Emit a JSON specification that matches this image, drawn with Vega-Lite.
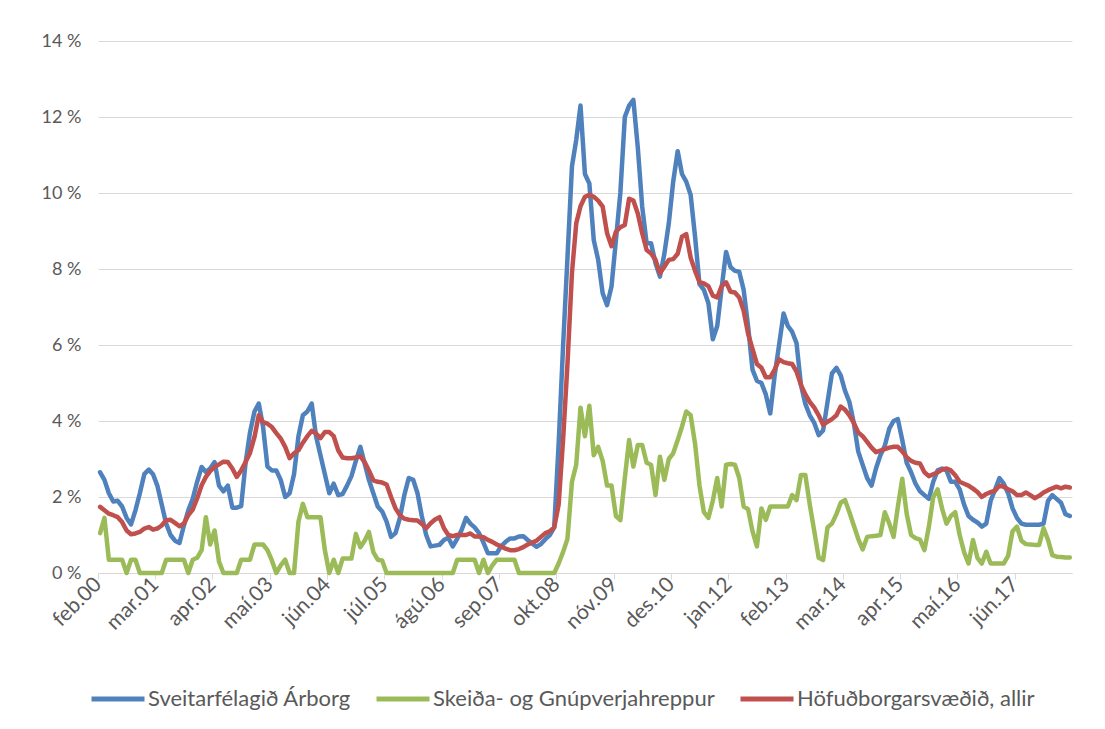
{
"$schema":"https://vega.github.io/schema/vega-lite/v6.json",
"width":974,"height":532,
"autosize":{"type":"none"},
"padding":{"left":98,"top":41,"right":33,"bottom":156},
"background":"white",
"config":{"font":"Lato","view":{"stroke":null},
"axis":{"labelFont":"Lato","labelFontSize":18,"labelColor":"#595959","title":null},
"legend":{"orient":"none","legendX":-9,"legendY":629,"direction":"horizontal","symbolType":"stroke","symbolSize":2809,"symbolStrokeWidth":5,"labelFont":"Lato","labelFontSize":22,"labelColor":"#595959","labelLimit":500,"columnPadding":15,"labelOffset":1,"padding":0}},
"data":{"values":[
{"d":"2000-02","a":2.65,"s":1.05,"h":1.74},{"d":"2000-03","a":2.45,"s":1.45,"h":1.65},{"d":"2000-04","a":2.1,"s":0.35,"h":1.56},{"d":"2000-05","a":1.88,"s":0.35,"h":1.52},{"d":"2000-06","a":1.9,"s":0.35,"h":1.47},{"d":"2000-07","a":1.75,"s":0.35,"h":1.34},{"d":"2000-08","a":1.45,"s":0,"h":1.12},{"d":"2000-09","a":1.28,"s":0.35,"h":1.02},{"d":"2000-10","a":1.65,"s":0.35,"h":1.04},{"d":"2000-11","a":2.1,"s":0,"h":1.08},{"d":"2000-12","a":2.6,"s":0,"h":1.17},
{"d":"2001-01","a":2.72,"s":0,"h":1.21},{"d":"2001-02","a":2.6,"s":0,"h":1.14},{"d":"2001-03","a":2.3,"s":0,"h":1.17},{"d":"2001-04","a":1.8,"s":0,"h":1.25},{"d":"2001-05","a":1.3,"s":0.35,"h":1.39},{"d":"2001-06","a":1.0,"s":0.35,"h":1.4},{"d":"2001-07","a":0.85,"s":0.35,"h":1.32},{"d":"2001-08","a":0.79,"s":0.35,"h":1.23},{"d":"2001-09","a":1.25,"s":0.35,"h":1.3},{"d":"2001-10","a":1.65,"s":0,"h":1.52},{"d":"2001-11","a":1.95,"s":0.35,"h":1.67},{"d":"2001-12","a":2.4,"s":0.4,"h":1.96},
{"d":"2002-01","a":2.79,"s":0.6,"h":2.31},{"d":"2002-02","a":2.66,"s":1.47,"h":2.53},{"d":"2002-03","a":2.75,"s":0.75,"h":2.68},{"d":"2002-04","a":2.92,"s":1.12,"h":2.79},{"d":"2002-05","a":2.3,"s":0.3,"h":2.86},{"d":"2002-06","a":2.15,"s":0,"h":2.93},{"d":"2002-07","a":2.3,"s":0,"h":2.92},{"d":"2002-08","a":1.72,"s":0,"h":2.75},{"d":"2002-09","a":1.72,"s":0,"h":2.53},{"d":"2002-10","a":1.76,"s":0.35,"h":2.7},{"d":"2002-11","a":2.9,"s":0.35,"h":2.92},{"d":"2002-12","a":3.7,"s":0.35,"h":3.16},
{"d":"2003-01","a":4.25,"s":0.75,"h":3.58},{"d":"2003-02","a":4.46,"s":0.75,"h":4.15},{"d":"2003-03","a":3.85,"s":0.75,"h":3.97},{"d":"2003-04","a":2.8,"s":0.6,"h":3.93},{"d":"2003-05","a":2.7,"s":0.33,"h":3.84},{"d":"2003-06","a":2.7,"s":0,"h":3.68},{"d":"2003-07","a":2.45,"s":0.2,"h":3.54},{"d":"2003-08","a":2.0,"s":0.35,"h":3.32},{"d":"2003-09","a":2.1,"s":0,"h":3.02},{"d":"2003-10","a":2.6,"s":0,"h":3.15},{"d":"2003-11","a":3.6,"s":1.35,"h":3.23},{"d":"2003-12","a":4.15,"s":1.82,"h":3.43},
{"d":"2004-01","a":4.25,"s":1.47,"h":3.6},{"d":"2004-02","a":4.46,"s":1.47,"h":3.74},{"d":"2004-03","a":3.6,"s":1.47,"h":3.67},{"d":"2004-04","a":3.1,"s":1.47,"h":3.55},{"d":"2004-05","a":2.6,"s":0.6,"h":3.71},{"d":"2004-06","a":2.1,"s":0,"h":3.71},{"d":"2004-07","a":2.35,"s":0.35,"h":3.6},{"d":"2004-08","a":2.05,"s":0,"h":3.23},{"d":"2004-09","a":2.08,"s":0.38,"h":3.04},{"d":"2004-10","a":2.3,"s":0.38,"h":3.02},{"d":"2004-11","a":2.55,"s":0.38,"h":3.02},{"d":"2004-12","a":2.95,"s":1.03,"h":3.04},
{"d":"2005-01","a":3.32,"s":0.68,"h":3.07},{"d":"2005-02","a":2.88,"s":0.85,"h":2.92},{"d":"2005-03","a":2.45,"s":1.08,"h":2.7},{"d":"2005-04","a":2.1,"s":0.55,"h":2.44},{"d":"2005-05","a":1.75,"s":0.35,"h":2.4},{"d":"2005-06","a":1.62,"s":0.33,"h":2.38},{"d":"2005-07","a":1.35,"s":0,"h":2.33},{"d":"2005-08","a":0.95,"s":0,"h":2.0},{"d":"2005-09","a":1.05,"s":0,"h":1.7},{"d":"2005-10","a":1.45,"s":0,"h":1.52},{"d":"2005-11","a":2.05,"s":0,"h":1.43},{"d":"2005-12","a":2.5,"s":0,"h":1.4},
{"d":"2006-01","a":2.45,"s":0,"h":1.39},{"d":"2006-02","a":2.1,"s":0,"h":1.38},{"d":"2006-03","a":1.5,"s":0,"h":1.29},{"d":"2006-04","a":1.0,"s":0,"h":1.18},{"d":"2006-05","a":0.7,"s":0,"h":1.31},{"d":"2006-06","a":0.72,"s":0,"h":1.41},{"d":"2006-07","a":0.74,"s":0,"h":1.47},{"d":"2006-08","a":0.87,"s":0,"h":1.18},{"d":"2006-09","a":0.93,"s":0,"h":1.0},{"d":"2006-10","a":0.7,"s":0,"h":0.97},{"d":"2006-11","a":0.9,"s":0.35,"h":1.0},{"d":"2006-12","a":1.13,"s":0.35,"h":1.0},
{"d":"2007-01","a":1.45,"s":0.35,"h":1.0},{"d":"2007-02","a":1.3,"s":0.35,"h":1.04},{"d":"2007-03","a":1.2,"s":0.35,"h":0.96},{"d":"2007-04","a":1.05,"s":0,"h":0.96},{"d":"2007-05","a":0.8,"s":0.35,"h":0.94},{"d":"2007-06","a":0.52,"s":0,"h":0.87},{"d":"2007-07","a":0.52,"s":0.2,"h":0.82},{"d":"2007-08","a":0.52,"s":0.35,"h":0.75},{"d":"2007-09","a":0.71,"s":0.35,"h":0.7},{"d":"2007-10","a":0.82,"s":0.35,"h":0.64},{"d":"2007-11","a":0.91,"s":0.35,"h":0.6},{"d":"2007-12","a":0.91,"s":0.35,"h":0.6},
{"d":"2008-01","a":0.96,"s":0,"h":0.63},{"d":"2008-02","a":0.97,"s":0,"h":0.68},{"d":"2008-03","a":0.87,"s":0,"h":0.75},{"d":"2008-04","a":0.78,"s":0,"h":0.8},{"d":"2008-05","a":0.69,"s":0,"h":0.85},{"d":"2008-06","a":0.76,"s":0,"h":0.95},{"d":"2008-07","a":0.89,"s":0,"h":1.05},{"d":"2008-08","a":1.0,"s":0,"h":1.1},{"d":"2008-09","a":1.2,"s":0,"h":1.2},{"d":"2008-10","a":3.4,"s":0.25,"h":1.8},{"d":"2008-11","a":5.96,"s":0.55,"h":3.5},{"d":"2008-12","a":8.3,"s":0.9,"h":5.5},
{"d":"2009-01","a":10.7,"s":2.4,"h":7.9},{"d":"2009-02","a":11.4,"s":2.85,"h":9.2},{"d":"2009-03","a":12.3,"s":4.35,"h":9.65},{"d":"2009-04","a":10.5,"s":3.6,"h":9.9},{"d":"2009-05","a":10.25,"s":4.4,"h":9.95},{"d":"2009-06","a":8.76,"s":3.1,"h":9.9},{"d":"2009-07","a":8.24,"s":3.32,"h":9.8},{"d":"2009-08","a":7.36,"s":2.95,"h":9.64},{"d":"2009-09","a":7.05,"s":2.3,"h":8.94},{"d":"2009-10","a":7.54,"s":2.3,"h":8.6},{"d":"2009-11","a":8.76,"s":1.5,"h":8.98},{"d":"2009-12","a":10.0,"s":1.39,"h":9.1},
{"d":"2010-01","a":12.0,"s":2.5,"h":9.16},{"d":"2010-02","a":12.3,"s":3.5,"h":9.85},{"d":"2010-03","a":12.45,"s":2.8,"h":9.8},{"d":"2010-04","a":11.2,"s":3.37,"h":9.46},{"d":"2010-05","a":9.64,"s":3.37,"h":8.94},{"d":"2010-06","a":8.68,"s":2.9,"h":8.5},{"d":"2010-07","a":8.68,"s":2.85,"h":8.41},{"d":"2010-08","a":8.15,"s":2.05,"h":8.24},{"d":"2010-09","a":7.8,"s":3.06,"h":7.89},{"d":"2010-10","a":8.4,"s":2.45,"h":8.06},{"d":"2010-11","a":9.2,"s":3.0,"h":8.24},{"d":"2010-12","a":10.3,"s":3.15,"h":8.26},
{"d":"2011-01","a":11.1,"s":3.5,"h":8.4},{"d":"2011-02","a":10.5,"s":3.85,"h":8.85},{"d":"2011-03","a":10.3,"s":4.25,"h":8.92},{"d":"2011-04","a":9.95,"s":4.15,"h":8.3},{"d":"2011-05","a":8.85,"s":3.4,"h":7.95},{"d":"2011-06","a":7.6,"s":2.3,"h":7.65},{"d":"2011-07","a":7.45,"s":1.6,"h":7.62},{"d":"2011-08","a":7.1,"s":1.45,"h":7.55},{"d":"2011-09","a":6.15,"s":1.9,"h":7.3},{"d":"2011-10","a":6.5,"s":2.5,"h":7.25},{"d":"2011-11","a":7.5,"s":1.75,"h":7.55},{"d":"2011-12","a":8.45,"s":2.85,"h":7.65},
{"d":"2012-01","a":8.05,"s":2.87,"h":7.4},{"d":"2012-02","a":7.95,"s":2.85,"h":7.38},{"d":"2012-03","a":7.93,"s":2.5,"h":7.25},{"d":"2012-04","a":7.45,"s":1.75,"h":6.9},{"d":"2012-05","a":6.5,"s":1.68,"h":6.3},{"d":"2012-06","a":5.35,"s":1.1,"h":5.9},{"d":"2012-07","a":5.06,"s":0.7,"h":5.5},{"d":"2012-08","a":5.0,"s":1.7,"h":5.4},{"d":"2012-09","a":4.7,"s":1.4,"h":5.15},{"d":"2012-10","a":4.2,"s":1.75,"h":5.15},{"d":"2012-11","a":5.2,"s":1.75,"h":5.35},{"d":"2012-12","a":6.0,"s":1.75,"h":5.62},
{"d":"2013-01","a":6.83,"s":1.75,"h":5.55},{"d":"2013-02","a":6.5,"s":1.75,"h":5.52},{"d":"2013-03","a":6.35,"s":2.05,"h":5.5},{"d":"2013-04","a":6.05,"s":1.92,"h":5.3},{"d":"2013-05","a":4.95,"s":2.58,"h":4.95},{"d":"2013-06","a":4.45,"s":2.58,"h":4.7},{"d":"2013-07","a":4.15,"s":1.8,"h":4.5},{"d":"2013-08","a":3.95,"s":1.1,"h":4.35},{"d":"2013-09","a":3.63,"s":0.4,"h":4.15},{"d":"2013-10","a":3.75,"s":0.34,"h":3.9},{"d":"2013-11","a":4.5,"s":1.2,"h":3.98},{"d":"2013-12","a":5.25,"s":1.3,"h":4.05},
{"d":"2014-01","a":5.4,"s":1.55,"h":4.15},{"d":"2014-02","a":5.2,"s":1.85,"h":4.38},{"d":"2014-03","a":4.8,"s":1.92,"h":4.3},{"d":"2014-04","a":4.5,"s":1.6,"h":4.15},{"d":"2014-05","a":3.95,"s":1.25,"h":3.95},{"d":"2014-06","a":3.2,"s":0.9,"h":3.7},{"d":"2014-07","a":2.85,"s":0.62,"h":3.6},{"d":"2014-08","a":2.5,"s":0.95,"h":3.45},{"d":"2014-09","a":2.3,"s":0.97,"h":3.3},{"d":"2014-10","a":2.75,"s":0.98,"h":3.18},{"d":"2014-11","a":3.1,"s":1.0,"h":3.22},{"d":"2014-12","a":3.35,"s":1.6,"h":3.26},
{"d":"2015-01","a":3.8,"s":1.3,"h":3.3},{"d":"2015-02","a":4.0,"s":0.95,"h":3.32},{"d":"2015-03","a":4.05,"s":1.74,"h":3.32},{"d":"2015-04","a":3.5,"s":2.48,"h":3.2},{"d":"2015-05","a":2.9,"s":1.56,"h":3.05},{"d":"2015-06","a":2.65,"s":1.0,"h":2.95},{"d":"2015-07","a":2.35,"s":0.92,"h":2.9},{"d":"2015-08","a":2.15,"s":0.88,"h":2.88},{"d":"2015-09","a":2.05,"s":0.6,"h":2.65},{"d":"2015-10","a":1.95,"s":1.21,"h":2.55},{"d":"2015-11","a":2.4,"s":2.0,"h":2.6},{"d":"2015-12","a":2.7,"s":2.2,"h":2.65},
{"d":"2016-01","a":2.75,"s":1.69,"h":2.72},{"d":"2016-02","a":2.7,"s":1.3,"h":2.75},{"d":"2016-03","a":2.4,"s":1.5,"h":2.7},{"d":"2016-04","a":2.4,"s":1.6,"h":2.57},{"d":"2016-05","a":2.2,"s":1.0,"h":2.4},{"d":"2016-06","a":1.8,"s":0.55,"h":2.35},{"d":"2016-07","a":1.5,"s":0.25,"h":2.3},{"d":"2016-08","a":1.4,"s":0.87,"h":2.22},{"d":"2016-09","a":1.33,"s":0.4,"h":2.13},{"d":"2016-10","a":1.22,"s":0.25,"h":2.0},{"d":"2016-11","a":1.3,"s":0.56,"h":2.08},{"d":"2016-12","a":1.9,"s":0.25,"h":2.13},
{"d":"2017-01","a":2.2,"s":0.25,"h":2.17},{"d":"2017-02","a":2.5,"s":0.25,"h":2.3},{"d":"2017-03","a":2.35,"s":0.25,"h":2.27},{"d":"2017-04","a":2.1,"s":0.45,"h":2.2},{"d":"2017-05","a":1.7,"s":1.1,"h":2.15},{"d":"2017-06","a":1.45,"s":1.22,"h":2.05},{"d":"2017-07","a":1.3,"s":0.85,"h":2.05},{"d":"2017-08","a":1.27,"s":0.76,"h":2.12},{"d":"2017-09","a":1.27,"s":0.75,"h":2.05},{"d":"2017-10","a":1.27,"s":0.74,"h":1.97},{"d":"2017-11","a":1.27,"s":0.74,"h":2.03},{"d":"2017-12","a":1.3,"s":1.18,"h":2.12},
{"d":"2018-01","a":1.9,"s":0.87,"h":2.18},{"d":"2018-02","a":2.05,"s":0.47,"h":2.23},{"d":"2018-03","a":1.95,"s":0.43,"h":2.27},{"d":"2018-04","a":1.85,"s":0.42,"h":2.23},{"d":"2018-05","a":1.55,"s":0.41,"h":2.27},{"d":"2018-06","a":1.5,"s":0.41,"h":2.25}
]},
"encoding":{
"x":{"field":"d","timeUnit":"utcyearmonth","type":"temporal","bandPosition":0.5,
"scale":{"type":"utc","domain":[{"year":2000,"month":2,"date":1,"utc":true},{"year":2018,"month":7,"date":1,"utc":true}],"nice":false},
"axis":{"values":[{"year":2000,"month":2,"date":1,"utc":true},{"year":2001,"month":3,"date":1,"utc":true},{"year":2002,"month":4,"date":1,"utc":true},{"year":2003,"month":5,"date":1,"utc":true},{"year":2004,"month":6,"date":1,"utc":true},{"year":2005,"month":7,"date":1,"utc":true},{"year":2006,"month":8,"date":1,"utc":true},{"year":2007,"month":9,"date":1,"utc":true},{"year":2008,"month":10,"date":1,"utc":true},{"year":2009,"month":11,"date":1,"utc":true},{"year":2010,"month":12,"date":1,"utc":true},{"year":2012,"month":1,"date":1,"utc":true},{"year":2013,"month":2,"date":1,"utc":true},{"year":2014,"month":3,"date":1,"utc":true},{"year":2015,"month":4,"date":1,"utc":true},{"year":2016,"month":5,"date":1,"utc":true},{"year":2017,"month":6,"date":1,"utc":true}],
"labelAngle":315,"labelAlign":"right","labelBaseline":"middle","labelPadding":2,"labelOverlap":false,"labelBound":false,"labelFlush":false,"labelFontSize":21,"domainColor":"#D9D9D9","domainWidth":1,"tickColor":"#D9D9D9","tickSize":6,"grid":false,
"labelExpr":"['jan','feb','mar','apr','maí','jún','júl','ágú','sep','okt','nóv','des'][utcmonth(datum.value)] + '.' + utcFormat(datum.value,'%y')"}}
},
"layer":[
{"mark":{"type":"line","strokeWidth":4.5,"strokeJoin":"round","strokeCap":"round"},
"encoding":{"y":{"field":"a","type":"quantitative","scale":{"domain":[0,14],"nice":false},"axis":{"values":[0,2,4,6,8,10,12,14],"labelExpr":"datum.value + ' %'","domain":false,"ticks":false,"grid":true,"gridColor":"#D9D9D9","labelPadding":17}},
"color":{"datum":"Sveitarfélagið Árborg","scale":{"domain":["Sveitarfélagið Árborg","Skeiða- og Gnúpverjahreppur","Höfuðborgarsvæðið, allir"],"range":["#4F81BD","#9BBB59","#C0504D"]},"legend":{"title":null}}}},
{"mark":{"type":"line","strokeWidth":4.5,"strokeJoin":"round","strokeCap":"round"},
"encoding":{"y":{"field":"s","type":"quantitative","scale":{"domain":[0,14],"nice":false},"axis":{"values":[0,2,4,6,8,10,12,14],"labelExpr":"datum.value + ' %'","domain":false,"ticks":false,"grid":true,"gridColor":"#D9D9D9","labelPadding":17}},
"color":{"datum":"Skeiða- og Gnúpverjahreppur"}}},
{"mark":{"type":"line","strokeWidth":4.5,"strokeJoin":"round","strokeCap":"round"},
"encoding":{"y":{"field":"h","type":"quantitative","scale":{"domain":[0,14],"nice":false},"axis":{"values":[0,2,4,6,8,10,12,14],"labelExpr":"datum.value + ' %'","domain":false,"ticks":false,"grid":true,"gridColor":"#D9D9D9","labelPadding":17}},
"color":{"datum":"Höfuðborgarsvæðið, allir"}}}
]
}
